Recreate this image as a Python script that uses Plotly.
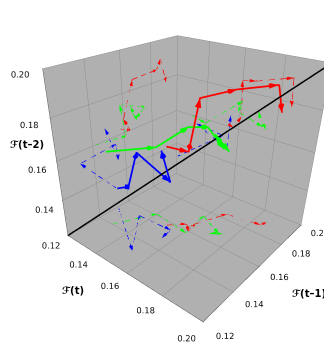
"""Phase-space trajectories of F(t), F(t-1), F(t-2) with wall projections."""
import numpy as np
import plotly.graph_objects as go

# Trajectories
blue_t = [0.121, 0.151, 0.134, 0.154, 0.155]
blue_t1 = [0.152, 0.132, 0.154, 0.155, 0.148]
blue_t2 = [0.132, 0.154, 0.156, 0.147, 0.166]

green_t = [0.129, 0.140, 0.161, 0.159, 0.173, 0.170, 0.175]
green_t1 = [0.140, 0.161, 0.158, 0.175, 0.168, 0.165, 0.169]
green_t2 = [0.160, 0.158, 0.175, 0.169, 0.165, 0.172, 0.164]

red_t = [0.150, 0.157, 0.161, 0.160, 0.167, 0.185, 0.186]
red_t1 = [0.157, 0.164, 0.160, 0.167, 0.184, 0.187, 0.191]
red_t2 = [0.163, 0.160, 0.167, 0.185, 0.186, 0.191, 0.178]

diagonal = [0.12, 0.20]
axis_range = [0.12, 0.20]

BLUE, GREEN, RED = "#0000ff", "#00ff00", "#ff0000"
WALL = "#b0b0b0"
FONT = "DejaVu Sans"
# write_html leaves the default 8px body margin, so the figure is that much smaller
WIDTH, HEIGHT, BODY = 324, 354, 8


def dashed(p0, p1, on=0.0035, off=0.0025):
    """Cut one segment into short pieces; gl dashes are too faint at this size."""
    d = p1 - p0
    length = np.linalg.norm(d)
    out = []
    s = 0.0
    while s < length:
        out += [p0 + d * s / length, p0 + d * min(s + on, length) / length,
                [None, None, None]]
        s += on + off
    return out


def head_mesh(tips, tails, length, half):
    """Vertices and faces of a small pyramid at each segment end."""
    vx, vy, vz, i, j, k = [], [], [], [], [], []
    for tip, tail in zip(tips, tails):
        d = (tip - tail) / np.linalg.norm(tip - tail)
        a = np.cross(d, [0.3, -0.5, 0.8])
        a /= np.linalg.norm(a)
        b = np.cross(d, a)
        base = tip - d * length
        n = len(vx)
        for v in [tip, base + a * half, base + b * half, base - a * half, base - b * half]:
            vx.append(v[0]); vy.append(v[1]); vz.append(v[2])
        for m in range(4):
            i.append(n); j.append(n + 1 + m); k.append(n + 1 + (m + 1) % 4)
    return vx, vy, vz, i, j, k


def path(fig, x, y, z, color, width, dash, length, half):
    """Polyline with an arrowhead at the end of every segment."""
    pts = np.column_stack([x, y, z]).astype(float)
    if dash:
        line = []
        for p0, p1 in zip(pts[:-1], pts[1:]):
            line += dashed(p0, p1)
        line = np.array(line, dtype=object)
        lx, ly, lz = list(line[:, 0]), list(line[:, 1]), list(line[:, 2])
    else:
        lx, ly, lz = x, y, z
    fig.add_trace(go.Scatter3d(
        x=lx, y=ly, z=lz, mode="lines",
        line=dict(color=color, width=width),
        hoverinfo="skip",
    ))
    vx, vy, vz, i, j, k = head_mesh(pts[1:], pts[:-1], length, half)
    fig.add_trace(go.Mesh3d(
        x=vx, y=vy, z=vz, i=i, j=j, k=k, color=color, flatshading=True,
        lighting=dict(ambient=1, diffuse=0, specular=0, fresnel=0),
        hoverinfo="skip",
    ))


fig = go.Figure()

for t, t1, t2, color in [
    (blue_t, blue_t1, blue_t2, BLUE),
    (green_t, green_t1, green_t2, GREEN),
    (red_t, red_t1, red_t2, RED),
]:
    lo, hi = axis_range
    path(fig, t, t1, [lo] * len(t), color, 1.5, True, 0.003, 0.001)
    path(fig, [lo] * len(t), t1, t2, color, 1.5, True, 0.003, 0.001)
    path(fig, t, [hi] * len(t), t2, color, 1.5, True, 0.003, 0.001)
    path(fig, t, t1, t2, color, 3.5, False, 0.004, 0.0014)

fig.add_trace(go.Scatter3d(
    x=diagonal, y=diagonal, z=diagonal, mode="lines",
    line=dict(color="black", width=3), hoverinfo="skip",
))

axis = dict(
    range=axis_range, dtick=0.02, tickformat=".2f", title="", tickangle=0,
    backgroundcolor=WALL, showbackground=True,
    gridcolor="#8e8e8e", gridwidth=1,
    showline=True, linecolor="#555555", linewidth=1,
    ticks="outside", ticklen=0.5, tickcolor="#555555",
    tickfont=dict(size=10, family=FONT, color="#111111"),
    showspikes=False, zeroline=False,
)

titles = [("ℱ(t)", 73, 290), ("ℱ(t–1)", 309, 293)]

fig.update_layout(
    width=WIDTH, height=HEIGHT,
    margin=dict(l=0, r=0, t=0, b=0),
    paper_bgcolor="white",
    showlegend=False,
    scene=dict(
        xaxis=axis, yaxis=axis, zaxis=axis,
        aspectmode="manual",
        aspectratio=dict(x=1.03, y=1.03, z=1.02),
        domain=dict(x=[0, 1], y=[0, 1]),
        camera=dict(eye=dict(x=1.321, y=-1.6925, z=1.085),
                    center=dict(x=-0.08, y=-0.0645, z=-0.185)),
    ),
    annotations=[
        dict(text=f"<b>{txt}</b>", x=(px - BODY) / WIDTH, y=1 - (py - BODY) / HEIGHT,
             xref="paper", yref="paper", xanchor="center", yanchor="middle",
             showarrow=False, font=dict(size=10, family=FONT, color="black"))
        for txt, px, py in titles
    ] + [
        dict(text="<b>ℱ(t–2)</b>", x=0, y=1 - (144 - BODY) / HEIGHT,
             xref="paper", yref="paper", xanchor="left", yanchor="middle",
             showarrow=False, font=dict(size=10, family=FONT, color="black")),
    ],
)

fig.write_html("out.html")
